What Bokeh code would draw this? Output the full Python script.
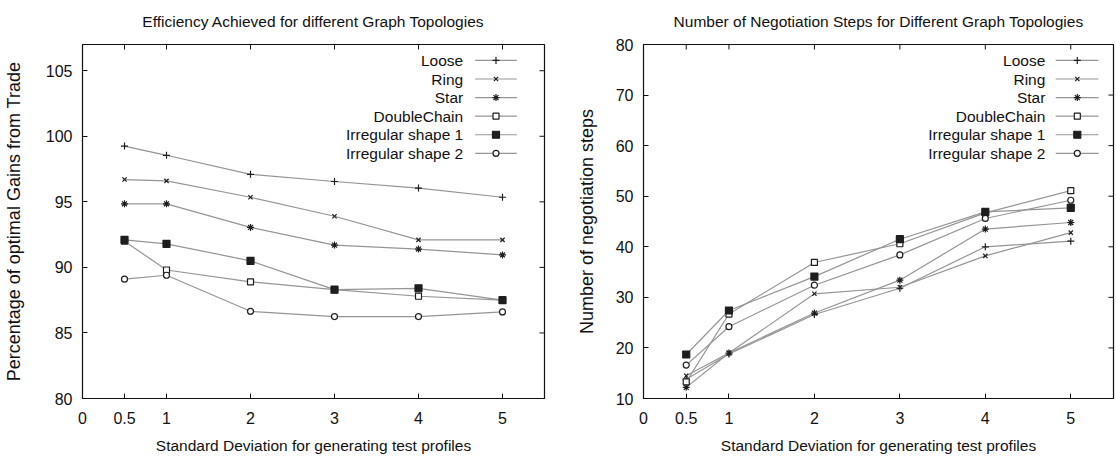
from bokeh.plotting import figure
from bokeh.layouts import row
from bokeh.models import FixedTicker
from bokeh.core.properties import value
from bokeh.embed import file_html
from bokeh.resources import INLINE

# ---- data ----
std_dev = [0.5, 1, 2, 3, 4, 5]
x_ticks = [0, 0.5, 1, 2, 3, 4, 5]
series_names = ["Loose", "Ring", "Star", "DoubleChain", "Irregular shape 1", "Irregular shape 2"]

eff_loose = [99.25, 98.55, 97.1, 96.55, 96.05, 95.35]
eff_ring = [96.7, 96.6, 95.35, 93.9, 92.1, 92.1]
eff_star = [94.85, 94.85, 93.05, 91.7, 91.4, 90.95]
eff_double = [92.0, 89.8, 88.9, 88.3, 87.8, 87.5]
eff_irr1 = [92.1, 91.8, 90.5, 88.3, 88.4, 87.5]
eff_irr2 = [89.1, 89.4, 86.65, 86.25, 86.25, 86.6]
eff_ticks = [80, 85, 90, 95, 100, 105]

steps_loose = [13.8, 18.8, 26.6, 31.8, 40.0, 41.1]
steps_ring = [14.5, 19.0, 30.7, 32.0, 38.2, 42.8]
steps_star = [12.2, 19.0, 26.9, 33.4, 43.5, 44.8]
steps_double = [13.3, 26.7, 36.9, 40.6, 46.7, 51.1]
steps_irr1 = [18.7, 27.4, 34.1, 41.5, 46.9, 47.7]
steps_irr2 = [16.6, 24.2, 32.4, 38.4, 45.6, 49.2]
steps_ticks = [10, 20, 30, 40, 50, 60, 70, 80]

FONT = "Liberation Sans"
LINE_COLOR = "#959595"
MARK_COLOR = "#1e1e1e"
TEXT_COLOR = "#111111"

marker_styles = [
    dict(marker="cross", size=7, fill=False),
    dict(marker="x", size=6, fill=False),
    dict(marker="asterisk", size=7, fill=False),
    dict(marker="square", size=6, fill=False),
    dict(marker="square", size=7, fill=True),
    dict(marker="circle", size=6, fill=False),
]

FRAME_H = 354


def make_fig(title, ylabel, x_rng, y_rng, yticks, data, width, border_left, border_right,
             ylabel_standoff, leg_text_fx, leg_line_fx, leg_mark_fx):
    frame_w = width - border_left - border_right
    p = figure(width=width, height=457, x_range=x_rng, y_range=y_rng,
               output_backend="svg", toolbar_location=None,
               min_border_left=border_left, min_border_right=border_right,
               min_border_top=44, min_border_bottom=59)
    p.title.text = title
    p.title.align = "center"
    p.title.vertical_align = "top"
    p.title.text_font = FONT
    p.title.text_font_size = "15.5px"
    p.title.text_font_style = "normal"
    p.title.text_color = TEXT_COLOR
    p.title.standoff = 25
    p.grid.visible = False
    p.outline_line_color = TEXT_COLOR
    p.outline_line_width = 1.2
    p.background_fill_color = "white"
    p.border_fill_color = "white"

    for ax in (p.xaxis[0], p.yaxis[0]):
        ax.major_label_text_font = FONT
        ax.major_label_text_font_size = "16px"
        ax.major_label_text_color = TEXT_COLOR
        ax.axis_label_text_font = FONT
        ax.axis_label_text_font_style = "normal"
        ax.axis_label_text_color = TEXT_COLOR
        ax.major_tick_in = 5
        ax.major_tick_out = 0
        ax.minor_tick_line_color = None
        ax.axis_line_color = TEXT_COLOR
        ax.major_tick_line_color = TEXT_COLOR

    p.xaxis[0].ticker = FixedTicker(ticks=x_ticks)
    p.xaxis[0].major_label_standoff = 13
    p.xaxis[0].axis_label = "Standard Deviation for generating test profiles"
    p.xaxis[0].axis_label_text_font_size = "15.5px"
    p.xaxis[0].axis_label_standoff = 10
    p.yaxis[0].ticker = FixedTicker(ticks=yticks)
    p.yaxis[0].major_label_standoff = 10
    p.yaxis[0].axis_label = ylabel
    p.yaxis[0].axis_label_text_font_size = "18px"
    p.yaxis[0].axis_label_standoff = ylabel_standoff

    x0, x1 = x_rng
    y0, y1 = y_rng
    # mirrored inward tick marks on top and right border (gnuplot style)
    tick_dy = 5 / FRAME_H * (y1 - y0)
    tick_dx = 5 / frame_w * (x1 - x0)
    p.segment(x0=x_ticks, y0=[y1] * len(x_ticks), x1=x_ticks, y1=[y1 - tick_dy] * len(x_ticks),
              line_color=TEXT_COLOR, line_width=1)
    p.segment(x0=[x1] * len(yticks), y0=yticks, x1=[x1 - tick_dx] * len(yticks), y1=yticks,
              line_color=TEXT_COLOR, line_width=1)

    for vals, st in zip(data, marker_styles):
        p.line(std_dev, vals, line_color=LINE_COLOR, line_width=1.2)
        p.scatter(std_dev, vals, marker=st["marker"], size=st["size"],
                  line_color=MARK_COLOR, line_width=1.2,
                  fill_color=MARK_COLOR if st["fill"] else "white")

    # gnuplot-style key: label right-aligned, sample to the right
    for i, (name, st) in enumerate(zip(series_names, marker_styles)):
        fy = 0.045 + i * 0.0525
        ly = y1 - fy * (y1 - y0)
        p.line([x0 + leg_line_fx[0] * (x1 - x0), x0 + leg_line_fx[1] * (x1 - x0)], [ly, ly],
               line_color=LINE_COLOR, line_width=1.2)
        p.scatter([x0 + leg_mark_fx * (x1 - x0)], [ly], marker=st["marker"], size=st["size"],
                  line_color=MARK_COLOR, line_width=1.2,
                  fill_color=MARK_COLOR if st["fill"] else "white")
        p.text([x0 + leg_text_fx * (x1 - x0)], [ly], text=[name], text_align="right",
               text_baseline="middle", text_font=value(FONT), text_font_size="15.5px",
               text_color=TEXT_COLOR)
    return p


p1 = make_fig("Efficiency Achieved for different Graph Topologies",
              "Percentage of optimal Gains from Trade",
              (0, 5.5), (80, 107), eff_ticks,
              [eff_loose, eff_ring, eff_star, eff_double, eff_irr1, eff_irr2],
              556, 79, 12, 19, 0.824, (0.85, 0.94), 0.895)
p2 = make_fig("Number of Negotiation Steps for Different Graph Topologies",
              "Number of negotiation steps",
              (0, 5.5), (10, 80), steps_ticks,
              [steps_loose, steps_ring, steps_star, steps_double, steps_irr1, steps_irr2],
              560, 87, 3, 16, 0.855, (0.877, 0.968), 0.923)

layout = row(p1, p2)
open("out.html", "w").write(file_html(layout, INLINE))
